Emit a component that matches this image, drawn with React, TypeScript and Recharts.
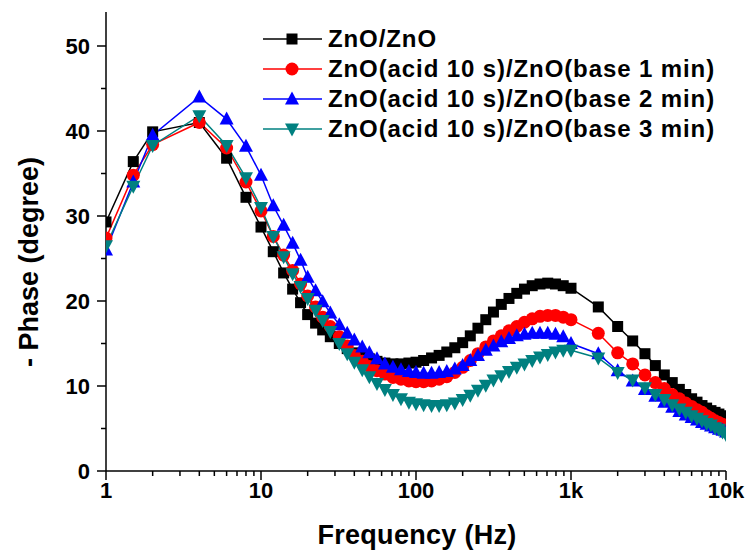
import React from "react";
import { LineChart, Line, XAxis, YAxis } from "recharts";

// frequency points (Hz)
const freq = [
  1, 1.5, 2, 4, 6, 8, 10, 12, 14, 16, 18, 20, 22.5, 25, 28, 32, 36, 40, 45, 50,
  56, 63, 71, 80, 90, 100, 112, 126, 141, 158, 178, 200, 224, 251, 282, 316,
  355, 398, 447, 501, 562, 631, 708, 794, 891, 1000, 1500, 2000, 2500, 3000,
  3500, 4000, 4500, 5000, 5500, 6000, 6500, 7000, 7500, 8000, 8500, 9000, 9500,
  10000,
];

const znoZno = [
  29.3, 36.4, 39.9, 41.0, 36.8, 32.2, 28.7, 25.8, 23.3, 21.4, 19.8, 18.4, 17.4,
  16.6, 15.8, 15.0, 14.4, 13.9, 13.5, 13.2, 12.9, 12.7, 12.6, 12.6, 12.7, 12.8,
  13.0, 13.3, 13.6, 14.0, 14.5, 15.1, 15.9, 16.8, 17.8, 18.7, 19.6, 20.3, 20.9,
  21.4, 21.8, 22.0, 22.1, 22.0, 21.8, 21.5, 19.3, 17.0, 15.3, 13.8, 12.4, 11.3,
  10.4, 9.6, 9.0, 8.5, 8.1, 7.7, 7.4, 7.1, 6.9, 6.7, 6.5, 6.3,
];

const base1 = [
  27.4, 34.8, 38.4, 41.0, 38.0, 34.0, 30.6, 27.6, 25.4, 23.6, 22.0, 20.6, 19.3,
  18.1, 17.0, 15.8, 14.7, 13.6, 12.9, 12.3, 11.8, 11.4, 11.0, 10.8, 10.6, 10.5,
  10.5, 10.6, 10.8, 11.1, 11.6, 12.2, 13.0, 13.8, 14.6, 15.3, 15.9, 16.5, 17.0,
  17.5, 17.9, 18.2, 18.3, 18.3, 18.1, 17.8, 16.2, 13.9, 12.6, 11.3, 10.4, 9.7,
  9.0, 8.5, 8.0, 7.6, 7.2, 6.9, 6.5, 6.2, 5.9, 5.7, 5.5, 5.3,
];

const base2 = [
  26.0, 34.0, 39.5, 44.0, 41.4, 38.2, 34.8, 31.2, 28.9, 26.8, 24.8, 22.8, 21.2,
  19.9, 18.6, 17.2, 16.2, 15.4, 14.6, 13.9, 13.2, 12.6, 12.2, 11.9, 11.7, 11.6,
  11.5, 11.5, 11.6, 11.7, 12.0, 12.4, 13.0, 13.6, 14.2, 14.7, 15.2, 15.6, 15.9,
  16.1, 16.2, 16.2, 16.2, 16.1, 15.8, 15.0, 13.8, 11.8, 10.6, 9.6, 8.8, 8.1,
  7.5, 7.0, 6.6, 6.3, 6.0, 5.7, 5.5, 5.3, 5.1, 4.9, 4.8, 4.6,
];

const base3 = [
  26.5, 33.5, 38.3, 41.8, 38.3, 34.5, 31.0, 27.6, 25.2, 23.2, 21.7, 20.3, 18.9,
  17.7, 16.4, 15.0, 13.8, 12.8, 11.9, 11.1, 10.3, 9.6, 9.0, 8.5, 8.1, 7.9, 7.8,
  7.7, 7.7, 7.8, 8.0, 8.4, 8.9, 9.5, 10.1, 10.7, 11.2, 11.7, 12.2, 12.6, 13.0,
  13.4, 13.7, 14.0, 14.2, 14.2, 13.3, 11.6, 10.7, 9.8, 9.0, 8.4, 7.8, 7.3, 6.9,
  6.5, 6.2, 5.9, 5.6, 5.4, 5.1, 4.9, 4.6, 4.3,
];

const xTicks = [
  1, 2, 3, 4, 5, 6, 7, 8, 9, 10, 20, 30, 40, 50, 60, 70, 80, 90, 100, 200, 300,
  400, 500, 600, 700, 800, 900, 1000, 2000, 3000, 4000, 5000, 6000, 7000, 8000,
  9000, 10000,
];
const xMajor = [1, 10, 100, 1000, 10000];
const xLabels = ["1", "10", "100", "1k", "10k"];
const yTicks = [0, 5, 10, 15, 20, 25, 30, 35, 40, 45, 50];

const series = [
  { key: "a", name: "ZnO/ZnO", color: "#000000", shape: "square", values: znoZno },
  { key: "b", name: "ZnO(acid 10 s)/ZnO(base 1 min)", color: "#ff0000", shape: "circle", values: base1 },
  { key: "c", name: "ZnO(acid 10 s)/ZnO(base 2 min)", color: "#0000ff", shape: "up", values: base2 },
  { key: "d", name: "ZnO(acid 10 s)/ZnO(base 3 min)", color: "#008080", shape: "down", values: base3 },
];

const data = freq.map((f, i) => ({
  f,
  a: znoZno[i],
  b: base1[i],
  c: base2[i],
  d: base3[i],
}));

const FONT = "'Liberation Sans', Arial, sans-serif";

function Marker({ shape, color, cx, cy }: any) {
  if (shape === "square")
    return <rect x={cx - 5.5} y={cy - 5.5} width={11} height={11} fill={color} />;
  if (shape === "circle") return <circle cx={cx} cy={cy} r={6.5} fill={color} />;
  if (shape === "up")
    return (
      <polygon
        points={`${cx},${cy - 7.5} ${cx - 7},${cy + 5.5} ${cx + 7},${cy + 5.5}`}
        fill={color}
      />
    );
  return (
    <polygon
      points={`${cx},${cy + 7.5} ${cx - 7},${cy - 5.5} ${cx + 7},${cy - 5.5}`}
      fill={color}
    />
  );
}

const makeDot = (shape: string, color: string) => (props: any) => {
  const { cx, cy, index } = props;
  if (cx == null || cy == null) return <g key={index} />;
  return (
    <g key={index}>
      <Marker shape={shape} color={color} cx={cx} cy={cy} />
    </g>
  );
};

function XTick(props: any) {
  const { x, y, payload } = props;
  const idx = xMajor.indexOf(payload.value);
  const major = idx >= 0;
  return (
    <g>
      <line x1={x} x2={x} y1={y} y2={y + (major ? 9 : 5)} stroke="#000" strokeWidth={1.5} />
      {major && (
        <text x={x} y={y + 27} textAnchor="middle" fontFamily={FONT} fontWeight="bold" fontSize={22} fill="#000">
          {xLabels[idx]}
        </text>
      )}
    </g>
  );
}

function YTick(props: any) {
  const { x, y, payload } = props;
  const major = payload.value % 10 === 0;
  return (
    <g>
      <line x1={x} x2={x - (major ? 9 : 5)} y1={y} y2={y} stroke="#000" strokeWidth={1.5} />
      {major && (
        <text x={x - 16} y={y + 7.5} textAnchor="end" fontFamily={FONT} fontWeight="bold" fontSize={22} fill="#000">
          {payload.value}
        </text>
      )}
    </g>
  );
}

function LegendBox() {
  return (
    <div
      style={{
        position: "absolute",
        left: 262,
        top: 24,
        fontFamily: FONT,
        fontWeight: "bold",
        fontSize: 24,
        letterSpacing: 0.9,
        color: "#000",
      }}
    >
      {series.map((s) => (
        <div key={s.key} style={{ display: "flex", alignItems: "center", height: 30 }}>
          <svg width={66} height={30}>
            <line x1={1} x2={60} y1={15} y2={15} stroke={s.color} strokeWidth={1.5} />
            <Marker shape={s.shape} color={s.color} cx={30} cy={15} />
          </svg>
          <span style={{ lineHeight: "30px", whiteSpace: "nowrap" }}>{s.name}</span>
        </div>
      ))}
    </div>
  );
}

export default function App() {
  return (
    <div style={{ position: "absolute", left: 0, top: 0, width: 747, height: 556, background: "#fff" }}>
      <LineChart
        width={747}
        height={556}
        data={data}
        margin={{ top: 12, right: 21, bottom: 0, left: 0 }}
      >
        <XAxis
          dataKey="f"
          type="number"
          scale="log"
          domain={[1, 10000]}
          ticks={xTicks}
          interval={0}
          allowDataOverflow
          height={85}
          tickSize={0}
          tickMargin={0}
          tickLine={false}
          axisLine={{ stroke: "#000", strokeWidth: 1.5 }}
          tick={<XTick />}
          label={{
            content: () => (
              <text x={417} y={544} textAnchor="middle" fontFamily={FONT} fontWeight="bold" fontSize={27} letterSpacing={0.3} fill="#000">
                Frequency (Hz)
              </text>
            ),
          }}
        />
        <XAxis
          xAxisId="top"
          dataKey="f"
          type="number"
          scale="log"
          domain={[1, 10000]}
          orientation="top"
          height={0}
          tick={false}
          tickLine={false}
          axisLine={{ stroke: "#000", strokeWidth: 1.5 }}
        />
        <YAxis
          type="number"
          domain={[0, 54]}
          ticks={yTicks}
          interval={0}
          width={106}
          tickSize={0}
          tickMargin={0}
          tickLine={false}
          axisLine={{ stroke: "#000", strokeWidth: 1.5 }}
          tick={<YTick />}
          label={{
            content: () => (
              <text
                x={38}
                y={262}
                transform="rotate(-90 38 262)"
                textAnchor="middle"
                fontFamily={FONT}
                fontWeight="bold"
                fontSize={27}
                fill="#000"
              >
                - Phase (degree)
              </text>
            ),
          }}
        />
        <YAxis
          yAxisId="right"
          orientation="right"
          domain={[0, 54]}
          width={0}
          tick={false}
          tickLine={false}
          axisLine={{ stroke: "#000", strokeWidth: 1.5 }}
        />
        {series.map((s) => (
          <Line
            key={s.key}
            dataKey={s.key}
            name={s.name}
            type="linear"
            stroke={s.color}
            strokeWidth={1.5}
            dot={makeDot(s.shape, s.color)}
            activeDot={false}
            isAnimationActive={false}
          />
        ))}
      </LineChart>
      <LegendBox />
    </div>
  );
}
